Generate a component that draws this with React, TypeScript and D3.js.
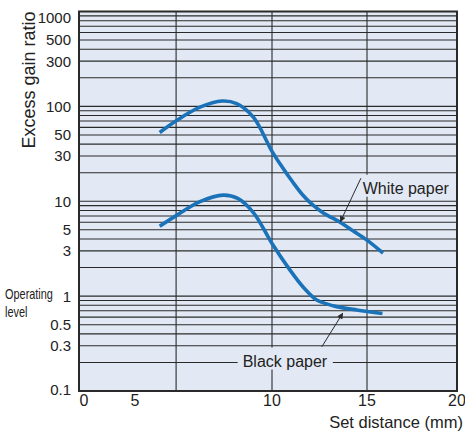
import React, { useEffect, useRef } from "react";
import * as d3 from "d3";

const W = 465;
const H = 434;

// X axis (set distance, mm)
const xTicks = [0, 5, 10, 15, 20];
const xGridLines = [6.5, 10, 15];

// Y axis (excess gain ratio, log)
const yTicks = [1000, 500, 300, 100, 50, 30, 10, 5, 3, 1, 0.5, 0.3, 0.1];
const yTickLabels = ["1000", "500", "300", "100", "50", "30", "10", "5", "3", "1", "0.5", "0.3", "0.1"];
const yDecades = [0.1, 1, 10, 100];
const yMultipliers = [1, 2, 3, 4, 5, 6, 7, 8, 9];

// White paper curve
const whiteX = [5.9, 6.52, 7.37, 8.18, 8.71, 9.32, 10, 10.58, 11.1, 11.63, 12.16, 12.68, 13.58, 14.26, 15.0, 15.89];
const whiteY = [53, 71, 98, 114, 107, 77, 33.6, 22.3, 15.85, 11.57, 9.08, 7.57, 6.01, 4.89, 3.89, 2.84];

// Black paper curve
const blackX = [5.9, 6.52, 7.37, 8.22, 8.75, 9.32, 10, 10.95, 11.65, 12.35, 12.84, 13.4, 14.46, 15.86];
const blackY = [5.46, 7.1, 9.9, 11.6, 10.7, 7.6, 3.59, 1.88, 1.24, 0.91, 0.834, 0.775, 0.715, 0.657];

// Annotations
const annoLabels = ["White paper", "Black paper"];
const annoTextX = [14.77, 10.68];
const annoTextY = [12.0, 0.181];
const annoAnchor = ["start", "middle"];
const arrowFromX = [14.68, 12.62];
const arrowFromY = [17.5, 0.292];
const arrowToX = [13.6, 13.72];
const arrowToY = [6.1, 0.66];

export default function App() {
  const ref = useRef<SVGSVGElement>(null);

  useEffect(() => {
    const svg = d3.select(ref.current);
    svg.selectAll("*").remove();

    const left = 79, right = 457, top = 11.5, bottom = 391;
    const x = d3.scaleLinear().domain([0, 5, 10, 15, 20]).range([84, 135, 272, 367, 457]);
    const y = d3.scaleLog().domain([0.1, 1000]).range([bottom, top]);
    const font = "'Liberation Sans', Arial, Helvetica, sans-serif";
    const ink = "#2a2a2a";
    const blue = "#1a72b9";

    svg.append("defs").append("marker")
      .attr("id", "ah").attr("viewBox", "0 0 10 10").attr("refX", 9).attr("refY", 5)
      .attr("markerWidth", 9).attr("markerHeight", 6).attr("markerUnits", "userSpaceOnUse")
      .attr("orient", "auto")
      .append("path").attr("d", "M0,0 L10,5 L0,10 Z").attr("fill", ink);

    // plot background
    svg.append("rect").attr("x", left).attr("y", top).attr("width", right - left)
      .attr("height", bottom - top).attr("fill", "#e2e9f4");

    // horizontal grid
    const hVals: number[] = [];
    yDecades.forEach((d) => yMultipliers.forEach((m) => { const v = d * m; if (v > 0.1) hVals.push(v); }));
    svg.append("g").selectAll("line").data(hVals).join("line")
      .attr("x1", left).attr("x2", right)
      .attr("y1", (d) => y(d)).attr("y2", (d) => y(d))
      .attr("stroke", ink).attr("stroke-width", 1.1);

    // vertical grid
    svg.append("g").selectAll("line").data(xGridLines).join("line")
      .attr("x1", (d) => x(d)).attr("x2", (d) => x(d))
      .attr("y1", top).attr("y2", bottom)
      .attr("stroke", ink).attr("stroke-width", 1.1);

    // annotation text with background
    const annoG = svg.append("g");
    const texts = annoLabels.map((t, i) =>
      annoG.append("text").attr("x", x(annoTextX[i])).attr("y", y(annoTextY[i]))
        .attr("text-anchor", annoAnchor[i]).attr("font-family", font).attr("font-size", 16)
        .attr("fill", "#222").text(t)
    );
    texts.forEach((t) => {
      const bb = (t.node() as SVGTextElement).getBBox();
      annoG.insert("rect", "text").attr("x", bb.x - 5).attr("y", bb.y - 5)
        .attr("width", bb.width + 10).attr("height", bb.height + 5).attr("fill", "#e2e9f4");
    });

    // frame
    svg.append("rect").attr("x", left).attr("y", top).attr("width", right - left)
      .attr("height", bottom - top).attr("fill", "none").attr("stroke", ink).attr("stroke-width", 2);

    // curves
    const line = d3.line<[number, number]>().x((d) => x(d[0])).y((d) => y(d[1]))
      .curve(d3.curveCatmullRom.alpha(0.5));
    [[whiteX, whiteY], [blackX, blackY]].forEach(([xs, ys]) => {
      const pts = xs.map((v, i) => [v, ys[i]] as [number, number]);
      svg.append("path").attr("d", line(pts)).attr("fill", "none")
        .attr("stroke", blue).attr("stroke-width", 3.6).attr("stroke-linecap", "butt");
    });

    // arrows
    annoLabels.forEach((_, i) => {
      svg.append("line").attr("x1", x(arrowFromX[i])).attr("y1", y(arrowFromY[i]))
        .attr("x2", x(arrowToX[i])).attr("y2", y(arrowToY[i]))
        .attr("stroke", ink).attr("stroke-width", 1).attr("marker-end", "url(#ah)");
    });

    // y tick labels
    svg.append("g").selectAll("text").data(yTicks).join("text")
      .attr("x", 71).attr("y", (d) => Math.min(Math.max(y(d), top + 6), bottom - 1.5))
      .attr("dy", "0.36em").attr("text-anchor", "end").attr("font-family", font)
      .attr("font-size", 15).attr("fill", "#222")
      .text((_, i) => yTickLabels[i]);

    // x tick labels
    svg.append("g").selectAll("text").data(xTicks).join("text")
      .attr("x", (d) => x(d)).attr("y", 406).attr("text-anchor", "middle")
      .attr("font-family", font).attr("font-size", 16).attr("fill", "#222")
      .text((d) => String(d));

    // axis titles
    svg.append("text").attr("transform", "translate(34.5,80) rotate(-90)")
      .attr("text-anchor", "middle").attr("font-family", font).attr("font-size", 18)
      .attr("fill", "#222").text("Excess gain ratio");
    svg.append("text").attr("x", 463).attr("y", 428).attr("text-anchor", "end")
      .attr("font-family", font).attr("font-size", 16.5).attr("fill", "#222")
      .text("Set distance (mm)");
    svg.append("text").attr("transform", "translate(5,299) scale(0.78,1)")
      .attr("font-family", font).attr("font-size", 14)
      .attr("fill", "#222").text("Operating");
    svg.append("text").attr("transform", "translate(5,317) scale(0.78,1)")
      .attr("font-family", font).attr("font-size", 14)
      .attr("fill", "#222").text("level");
  }, []);

  return (
    <svg ref={ref} width={W} height={H} style={{ display: "block", position: "absolute", left: 0, top: 0, background: "#fff" }} />
  );
}
